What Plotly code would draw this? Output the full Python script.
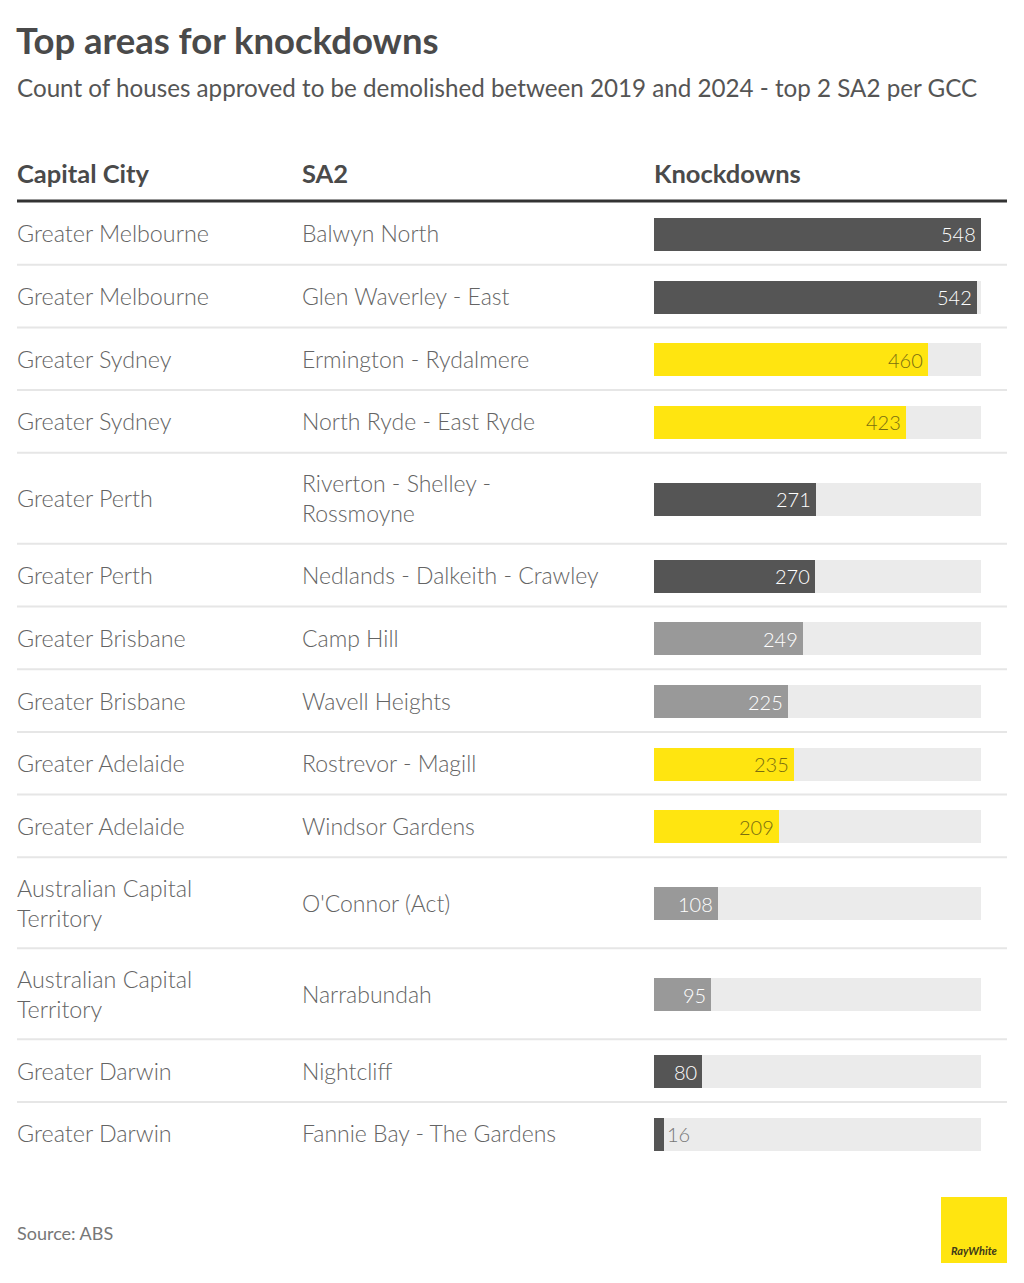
import plotly.graph_objects as go

# ---- data ----
cities = ["Greater Melbourne", "Greater Melbourne", "Greater Sydney", "Greater Sydney",
          "Greater Perth", "Greater Perth", "Greater Brisbane", "Greater Brisbane",
          "Greater Adelaide", "Greater Adelaide", "Australian Capital<br>Territory",
          "Australian Capital<br>Territory", "Greater Darwin", "Greater Darwin"]
sa2 = ["Balwyn North", "Glen Waverley - East", "Ermington - Rydalmere", "North Ryde - East Ryde",
       "Riverton - Shelley -<br>Rossmoyne", "Nedlands - Dalkeith - Crawley", "Camp Hill",
       "Wavell Heights", "Rostrevor - Magill", "Windsor Gardens", "O'Connor (Act)",
       "Narrabundah", "Nightcliff", "Fannie Bay - The Gardens"]
knockdowns = [548, 542, 460, 423, 271, 270, 249, 225, 235, 209, 108, 95, 80, 16]
max_value = 548

city_colors = {"Greater Melbourne": "#555555", "Greater Sydney": "#FFE510",
               "Greater Perth": "#555555", "Greater Brisbane": "#999999",
               "Greater Adelaide": "#FFE510", "Australian Capital<br>Territory": "#999999",
               "Greater Darwin": "#555555"}
label_colors = {"#555555": "#FFFFFF", "#999999": "#FFFFFF", "#FFE510": "#7A6E10"}

W, H = 1024, 1283
OFF = 8  # page body margin
FONT = "Lato"
TXT = "#646464"


def px(x):
    return (x - OFF) / W


def py(y):
    return y - OFF


# row geometry (page pixel units)
top = 202
single_h, double_h = 62.7, 91
centers, bounds = [], []
y = top
for c, s in zip(cities, sa2):
    h = double_h if ("<br>" in c or "<br>" in s) else single_h
    centers.append(py(y + h / 2))
    y += h
    bounds.append(py(y))

colors = [city_colors[c] for c in cities]
bar_centers = [c + 1 for c in centers]

fig = go.Figure()
fig.add_trace(go.Bar(x=[max_value] * len(knockdowns), y=bar_centers, orientation="h",
                     width=33, marker=dict(color="#EBEBEB", line=dict(width=0)),
                     hoverinfo="skip", showlegend=False))
fig.add_trace(go.Bar(x=knockdowns, y=bar_centers, orientation="h", width=33,
                     marker=dict(color=colors, line=dict(width=0)), showlegend=False))

ann = []
# value labels
for v, yc, col in zip(knockdowns, bar_centers, colors):
    inside = v > 40
    ann.append(dict(x=v, y=yc, xref="x", yref="y", text=str(v), showarrow=False,
                    xanchor="right" if inside else "left", xshift=-3 if inside else 1,
                    yanchor="middle",
                    font=dict(family=FONT, size=20, weight=300,
                              color=label_colors[col] if inside else "#777777")))
# table text
for c, s, yc in zip(cities, sa2, centers):
    ann.append(dict(x=px(15), y=yc, xref="paper", yref="y", text=c, showarrow=False,
                    xanchor="left", yanchor="middle", align="left",
                    font=dict(family=FONT, size=23.3, weight=300, color=TXT)))
    ann.append(dict(x=px(300), y=yc, xref="paper", yref="y", text=s, showarrow=False,
                    xanchor="left", yanchor="middle", align="left",
                    font=dict(family=FONT, size=23, weight=300, color=TXT)))
# headers
for txt, xp in [("Capital City", 15), ("SA2", 300), ("Knockdowns", 652)]:
    ann.append(dict(x=px(xp), y=py(173), xref="paper", yref="y", text=txt, showarrow=False,
                    xanchor="left", yanchor="middle",
                    font=dict(family=FONT, size=25.5, weight=700, color="#4a4a4a")))
# title / subtitle / source
ann.append(dict(x=px(14), y=py(40), xref="paper", yref="y", text="Top areas for knockdowns",
                showarrow=False, xanchor="left", yanchor="middle",
                font=dict(family=FONT, size=36.5, weight=700, color="#4a4a4a")))
ann.append(dict(x=px(15), y=py(87), xref="paper", yref="y",
                text="Count of houses approved to be demolished between 2019 and 2024 - top 2 SA2 per GCC",
                showarrow=False, xanchor="left", yanchor="middle",
                font=dict(family=FONT, size=24.2, weight=400, color="#555555")))
ann.append(dict(x=px(15), y=py(1233), xref="paper", yref="y", text="Source: ABS",
                showarrow=False, xanchor="left", yanchor="middle",
                font=dict(family=FONT, size=18, weight=400, color="#777777")))
ann.append(dict(x=px(974), y=py(1250), xref="paper", yref="y", text="<i><b>RayWhite</b></i>",
                showarrow=False, xanchor="center", yanchor="middle",
                font=dict(family=FONT, size=11, color="#3d3a1a")))

shapes = [dict(type="line", xref="paper", yref="y", x0=px(17), x1=px(1007), y0=py(201), y1=py(201),
               line=dict(color="#333333", width=3))]
for b in bounds[:-1]:
    shapes.append(dict(type="line", xref="paper", yref="y", x0=px(17), x1=px(1007),
                       y0=b, y1=b, line=dict(color="#E6E6E6", width=2)))
shapes.append(dict(type="rect", xref="paper", yref="y", x0=px(941), x1=px(1007),
                   y0=py(1197), y1=py(1263), fillcolor="#FFE510", line=dict(width=0), layer="below"))

fig.update_layout(
    width=W, height=H, margin=dict(l=0, r=0, t=0, b=0),
    paper_bgcolor="white", plot_bgcolor="white",
    barmode="overlay", bargap=0,
    xaxis=dict(domain=[px(654), px(981)], range=[0, max_value], visible=False, fixedrange=True),
    yaxis=dict(domain=[0, 1], range=[H, 0], visible=False, fixedrange=True),
    annotations=ann, shapes=shapes, showlegend=False,
)
fig.write_html("out.html")
